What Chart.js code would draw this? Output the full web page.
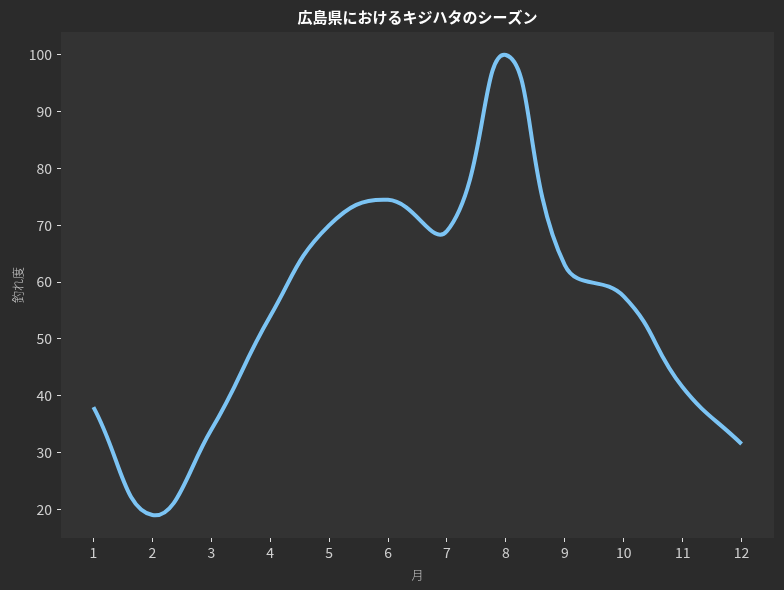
<!DOCTYPE html>
<html><head><meta charset="utf-8">
<script src="https://cdn.jsdelivr.net/npm/chart.js@4.4.0/dist/chart.umd.min.js"></script>
<style>html,body{margin:0;padding:0;background:#2b2b2b;}#wrap{width:784px;height:590px;}</style>
</head><body><div id="wrap"><canvas id="c" width="784" height="590"></canvas></div>
<script>
const months = [1,2,3,4,5,6,7,8,9,10,11,12];
const catchIndex = [38, 19, 34, 54, 70, 74.5, 69, 100, 63, 57.5, 41.5, 31.5];
const yTicks = [20,30,40,50,60,70,80,90,100];
const titleText = '広島県におけるキジハタのシーズン';
const xLabel = '月';
const yLabel = '釣れ度';

const FONT = '"Noto Sans CJK JP", "Noto Sans", sans-serif';
const TICKFONT = '"Liberation Sans Narrow", "Noto Sans CJK JP", sans-serif';

const bgPlugin = {
  id: 'bg',
  beforeDraw(chart) {
    const {ctx, chartArea: a} = chart;
    ctx.save();
    ctx.fillStyle = '#2b2b2b';
    ctx.fillRect(0, 0, chart.width, chart.height);
    ctx.fillStyle = '#333333';
    ctx.fillRect(a.left, a.top, a.right - a.left, a.bottom - a.top);
    ctx.restore();
  },
  afterDraw(chart) {
    const {ctx, chartArea: a} = chart;
    const cx = (a.left + a.right) / 2;
    ctx.save();
    ctx.fillStyle = '#ffffff';
    ctx.font = 'bold 15px ' + FONT;
    ctx.textAlign = 'center';
    ctx.textBaseline = 'middle';
    ctx.fillText(titleText, cx, 17);
    ctx.fillStyle = '#cccccc';
    ctx.font = '300 12px ' + FONT;
    ctx.fillText(xLabel, cx, 575);
    ctx.translate(18, (a.top + a.bottom) / 2);
    ctx.rotate(-Math.PI / 2);
    ctx.fillText(yLabel, 0, 0);
    ctx.restore();
  }
};

new Chart(document.getElementById('c'), {
  type: 'line',
  data: {
    datasets: [{
      data: months.map((m, i) => ({x: m, y: catchIndex[i]})),
      borderColor: '#7cc4f4',
      borderWidth: 4,
      pointRadius: 0,
      tension: 0.45,
      fill: false,
      borderCapStyle: 'butt'
    }]
  },
  options: {
    responsive: false,
    animation: false,
    devicePixelRatio: 1,
    layout: {padding: {top: 32, right: 10, left: 0, bottom: 0}},
    plugins: {legend: {display: false}, tooltip: {enabled: false}, title: {display: false}},
    scales: {
      x: {
        type: 'linear',
        min: 0.45, max: 12.55,
        afterFit(s) { s.height = 52; },
        afterBuildTicks(s) { s.ticks = months.map(v => ({value: v})); },
        grid: {drawOnChartArea: false, drawTicks: true, tickLength: 4, color: '#dddddd', tickWidth: 1},
        border: {display: false},
        ticks: {color: '#d0d0d0', font: {family: TICKFONT, size: 14}, padding: 2, maxRotation: 0, autoSkip: false}
      },
      y: {
        type: 'linear',
        min: 14.95, max: 104.05,
        afterFit(s) { s.width = 61; },
        afterBuildTicks(s) { s.ticks = yTicks.map(v => ({value: v})); },
        grid: {drawOnChartArea: false, drawTicks: true, tickLength: 4, color: '#dddddd', tickWidth: 1},
        border: {display: false},
        ticks: {color: '#d0d0d0', font: {family: TICKFONT, size: 14}, padding: 5}
      }
    }
  },
  plugins: [bgPlugin]
});
</script></body></html>
